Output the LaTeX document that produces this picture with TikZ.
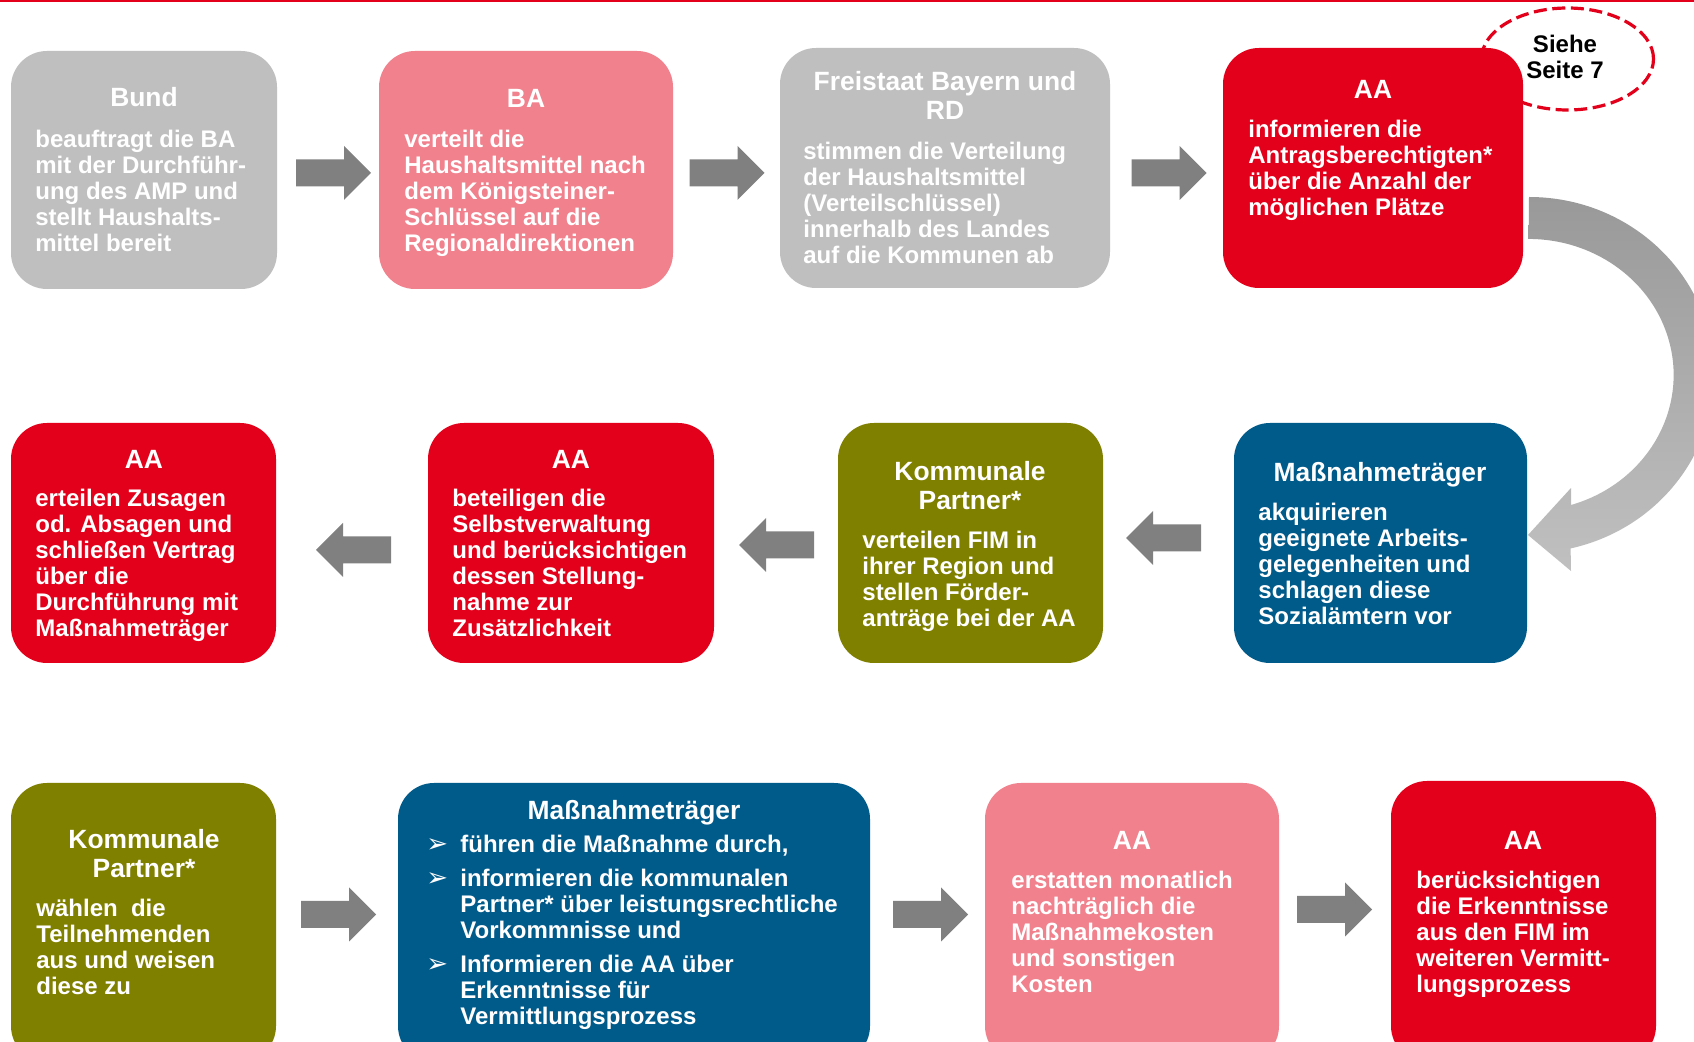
\documentclass[tikz,border=0pt]{standalone}
\usepackage{fontspec}
\setmainfont{Liberation Sans}
\newfontfamily\symfont{DejaVu Sans}
\usetikzlibrary{fit,shapes.geometric}
\definecolor{cgray}{HTML}{BFBFBF}
\definecolor{cpink}{HTML}{F0818D}
\definecolor{cred}{HTML}{E2001A}
\definecolor{colive}{HTML}{7F7F00}
\definecolor{cblue}{HTML}{005A8A}
\definecolor{carrow}{HTML}{808080}
\definecolor{cdark}{HTML}{999999}
\definecolor{clight}{HTML}{C0C0C0}
\newcommand\lns[1]{\begin{tabular}[t]{@{}l@{}}#1\end{tabular}}
\newcommand\clns[1]{\begin{tabular}[t]{@{}c@{}}#1\end{tabular}}
\newcommand\bul{{\symfont\fontsize{13}{13}\selectfont ➢}}
\newcommand\rarr[2]{\fill[blk, shift={(#1,#2)}] (-37.5,-13.5) -- (10.5,-13.5) -- (10.5,-27) -- (37.5,0) -- (10.5,27) -- (10.5,13.5) -- (-37.5,13.5) -- cycle;}
\newcommand\larr[2]{\fill[blk, shift={(#1,#2)}, xscale=-1] (-37.5,-13.5) -- (10.5,-13.5) -- (10.5,-27) -- (37.5,0) -- (10.5,27) -- (10.5,13.5) -- (-37.5,13.5) -- cycle;}
\tikzset{
  box/.style={inner sep=0pt, rounded corners=18pt, draw=none},
  ttl/.style={anchor=base, text=white, font=\fontsize{13.2}{14.5}\selectfont\bfseries, inner sep=0pt},
  bdy/.style={anchor=base west, text=white, font=\fontsize{12}{13}\selectfont\bfseries, inner sep=0pt},
  blk/.style={fill=carrow},
}
\begin{document}
\begin{tikzpicture}[x=0.5pt,y=-0.5pt]
\clip (0,0) rectangle (1694,1042);
\fill[white] (0,0) rectangle (1694,1042);
\fill[cred] (0,0) rectangle (1694,2.5);

% dashed ellipse (behind AA box)
\node[ellipse, draw=cred, line width=1.6pt, dash pattern=on 6.5pt off 2.8pt,
      minimum width=86pt, minimum height=51pt, inner sep=0pt] (siehe) at (1567.5,59) {};
\node[anchor=base, inner sep=0pt, text=black, font=\fontsize{12}{13}\selectfont\bfseries] (sieht) at (1565,53) {\clns{Siehe\\Seite 7}};

% ---------- row 1
\node[box, fill=cgray, fit={(11,51) (277,289)}] (bund) {};
\node[ttl] (bundt) at (144,107) {Bund};
\node[bdy] (bundb) at (35,148) {\lns{beauftragt die BA\\mit der Durchführ-\\ung des AMP und\\stellt Haushalts-\\mittel bereit}};

\node[box, fill=cpink, fit={(379,51) (673,289)}] (ba) {};
\node[ttl] (bat) at (526,108) {BA};
\node[bdy] (bab) at (404,148) {\lns{verteilt die\\Haushaltsmittel nach\\dem Königsteiner-\\Schlüssel auf die\\Regionaldirektionen}};

\node[box, fill=cgray, fit={(780,48) (1110,288)}] (frei) {};
\node[ttl] (freit) at (945,91) {\clns{Freistaat Bayern und\\RD}};
\node[bdy] (freib) at (803,160) {\lns{stimmen die Verteilung\\der Haushaltsmittel\\(Verteilschlüssel)\\innerhalb des Landes\\auf die Kommunen ab}};

\node[box, fill=cred, fit={(1223,48) (1523,288)}] (aa1) {};
\node[ttl] (aa1t) at (1373,99) {AA};
\node[bdy] (aa1b) at (1248,138) {\lns{informieren die\\Antragsberechtigten*\\über die Anzahl der\\möglichen Plätze}};

\rarr{333.5}{173}
\rarr{727}{173}
\rarr{1169}{173}

% curved arrow from AA down to Massnahmetraeger
\shade[top color=cdark, bottom color=clight]
  (1529,197) arc[start angle=-90, end angle=77, x radius=185, y radius=178]
  -- (1571,571) -- (1528,535) -- (1571,488) -- (1571,505)
  arc[start angle=73, end angle=-90, x radius=145, y radius=136] -- cycle;

% ---------- row 2
\node[box, fill=cblue, fit={(1234,423) (1527,663)}] (mt1) {};
\node[ttl] (mt1t) at (1380,482) {Maßnahmeträger};
\node[bdy] (mt1b) at (1258,521) {\lns{akquirieren\\geeignete Arbeits-\\gelegenheiten und\\schlagen diese\\Sozialämtern vor}};

\node[box, fill=colive, fit={(838,423) (1103,663)}] (kp1) {};
\node[ttl] (kp1t) at (970,481) {\clns{Kommunale\\Partner*}};
\node[bdy] (kp1b) at (862,549) {\lns{verteilen FIM in\\ihrer Region und\\stellen Förder-\\anträge bei der AA}};

\node[box, fill=cred, fit={(428,423) (714,663)}] (aa2) {};
\node[ttl] (aa2t) at (571,469) {AA};
\node[bdy] (aa2b) at (452,507) {\lns{beteiligen die\\Selbstverwaltung\\und berücksichtigen\\dessen Stellung-\\nahme zur\\Zusätzlichkeit}};

\node[box, fill=cred, fit={(11,423) (276,663)}] (aa3) {};
\node[ttl] (aa3t) at (144,469) {AA};
\node[bdy] (aa3b) at (35,507) {\lns{erteilen Zusagen\\od. Absagen und\\schließen Vertrag\\über die\\Durchführung mit\\Maßnahmeträger}};

\larr{1163.5}{538}
\larr{776.5}{545}
\larr{353.5}{550}

% ---------- row 3
\node[box, fill=colive, fit={(11,783) (276,1062)}] (kp2) {};
\node[ttl] (kp2t) at (144,849) {\clns{Kommunale\\Partner*}};
\node[bdy] (kp2b) at (36,917) {\lns{wählen\ \ die\\Teilnehmenden\\aus und weisen\\diese zu}};

\node[box, fill=cblue, fit={(398,783) (870,1062)}] (mt2) {};
\node[ttl] (mt2t) at (634,820) {Maßnahmeträger};
\node[bdy] (mt2b) at (426,853) {\begin{tabular}[t]{@{}p{17pt}@{}l@{}}
\bul & führen die Maßnahme durch,\\[4pt]
\bul & informieren die kommunalen\\
     & Partner* über leistungsrechtliche\\
     & Vorkommnisse und\\[4pt]
\bul & Informieren die AA über\\
     & Erkenntnisse für\\
     & Vermittlungsprozess
\end{tabular}};

\node[box, fill=cpink, fit={(985,783) (1279,1062)}] (aa4) {};
\node[ttl] (aa4t) at (1132,850) {AA};
\node[bdy] (aa4b) at (1011,889) {\lns{erstatten monatlich\\nachträglich die\\Maßnahmekosten\\und sonstigen\\Kosten}};

\node[box, fill=cred, fit={(1391,781) (1656,1062)}] (aa5) {};
\node[ttl] (aa5t) at (1523,850) {AA};
\node[bdy] (aa5b) at (1416,889) {\lns{berücksichtigen\\die Erkenntnisse\\aus den FIM im\\weiteren Vermitt-\\lungsprozess}};

\rarr{338.5}{914.5}
\rarr{930.5}{914.5}
\rarr{1334.5}{909.5}
\end{tikzpicture}
\end{document}
